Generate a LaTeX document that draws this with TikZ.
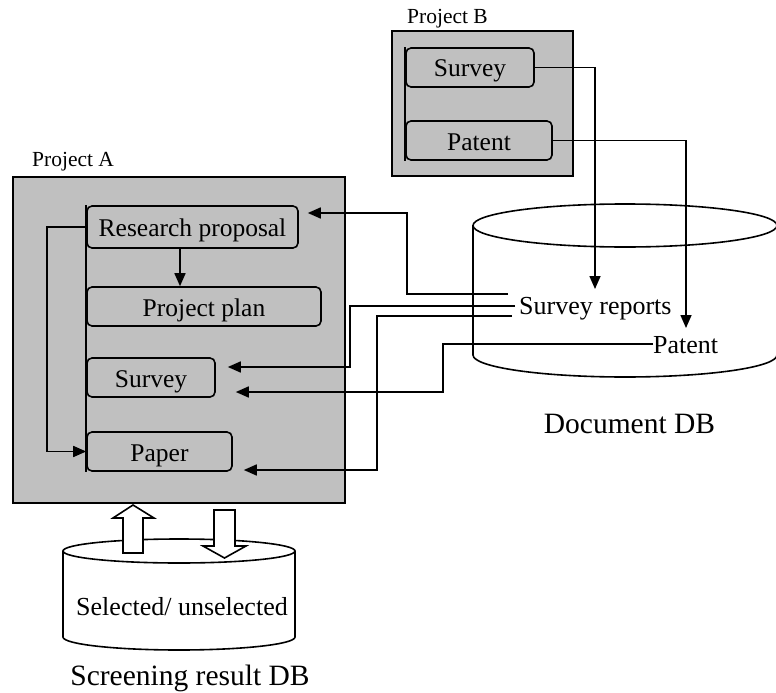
\documentclass[tikz,border=0pt]{standalone}
\usepackage{fontspec}
\setmainfont{Liberation Serif}
\usetikzlibrary{arrows.meta,calc}
\definecolor{boxgray}{HTML}{C0C0C0}
\tikzset{
  conn/.style={line width=1.6pt},
  arr/.style={conn,-{Triangle[length=13pt,width=11pt]}},
  docbox/.style={draw,rounded corners=5pt,line width=1.6pt,fill=boxgray,inner sep=0pt,
    text height=19pt,text depth=0pt,font=\fontsize{25.5}{30}\selectfont},
  projbox/.style={draw,line width=2pt,fill=boxgray},
  plabel/.style={inner sep=0pt,anchor=base west,font=\fontsize{21.5}{26}\selectfont},
  dblabel/.style={inner sep=0pt,anchor=base,font=\fontsize{29.5}{34}\selectfont},
  itemlabel/.style={inner sep=0pt,anchor=base west,font=\fontsize{26}{30}\selectfont},
  dbshape/.style={line width=1.6pt},
  blockarrow/.style={draw,fill=white,line width=1.6pt,line join=miter}
}
\begin{document}
\begin{tikzpicture}[x=1pt,y=-1pt]
\useasboundingbox (0,0) rectangle (776,693);

% Document DB cylinder
\draw[dbshape] (473,225.5) -- (473,355) arc[start angle=180,end angle=360,x radius=152pt,y radius=22pt] -- (777,225.5);
\draw[dbshape] (625,225.5) ellipse [x radius=152pt,y radius=21.5pt];
\node[dblabel] (ddb) at (629.5,433) {Document DB};

% Project B
\node[plabel] (pbl) at (407,24) {Project B};
\draw[projbox] (392,31) rectangle (573,176);
\node[docbox,minimum width=128pt,minimum height=39pt] (sb) at (470,67.5) {Survey};
\node[docbox,minimum width=146pt,minimum height=39pt] (pb) at (479,140.5) {Patent};
\draw[conn] (sb.north west) -- (pb.south west);

% Project A
\node[plabel] (pal) at (32,166) {Project A};
\draw[projbox] (13,177) rectangle (345,503);
\node[docbox,minimum width=211pt,minimum height=42pt] (rp) at (192.5,227) {Research proposal};
\node[docbox,minimum width=234pt,minimum height=39pt] (pp) at (204,306.5) {Project plan};
\node[docbox,minimum width=128pt,minimum height=39pt] (sa) at (151,377.5) {Survey};
\node[docbox,minimum width=145pt,minimum height=39pt] (paper) at (159.5,451.5) {Paper};
\draw[conn] (rp.north west) -- (paper.south west);
\draw[arr] (rp.south -| 180,0) -- (pp.north -| 180,0);
\draw[arr] (rp.west) -- ++(-39,0) |- (paper.west);

% Document DB items
\node[itemlabel] (sr) at (519,314) {Survey reports};
\node[itemlabel] (pt) at (653,353) {Patent};

% Project B to Document DB
\draw[arr] (sb.east) -| ($(sr.base west)+(76,-25)$);
\draw[arr] (pb.east) -| ($(pt.base west)+(33,-25)$);

% Document DB to Project A
\draw[arr] ($(sr.base west)+(-11,-20)$) -- ++(-101,0) |- ($(rp.east |- 0,213)+(9,0)$);
\draw[arr] ($(sr.base west)+(-4,-8)$) -- ++(-165,0) |- ($(sa.east |- 0,367)+(12,0)$);
\draw[arr] ($(sr.base west)+(-7,2)$) -- ++(-135,0) |- ($(paper.east |- 0,470)+(11,0)$);
\draw[arr] ($(pt.base west)+(0,-9)$) -- ++(-210,0) |- ($(sa.east |- 0,392)+(20,0)$);

% Screening result DB
\draw[dbshape] (63,551) -- (63,637) arc[start angle=180,end angle=360,x radius=116pt,y radius=13pt] -- (295,551);
\draw[dbshape] (179,551) ellipse [x radius=116pt,y radius=12pt];
\node[itemlabel,anchor=base] (sel) at (182,615) {Selected/ unselected};
\node[dblabel] (sdb) at (190,685) {Screening result DB};

% block arrows
\draw[blockarrow] (123,553) -- (123,518) -- (113,518) -- (133,505) -- (154,518) -- (143,518) -- (143,553) -- cycle;
\draw[blockarrow] (214,510) -- (235,510) -- (235,546) -- (246,546) -- (224.5,558) -- (203,546) -- (214,546) -- cycle;
\end{tikzpicture}
\end{document}
